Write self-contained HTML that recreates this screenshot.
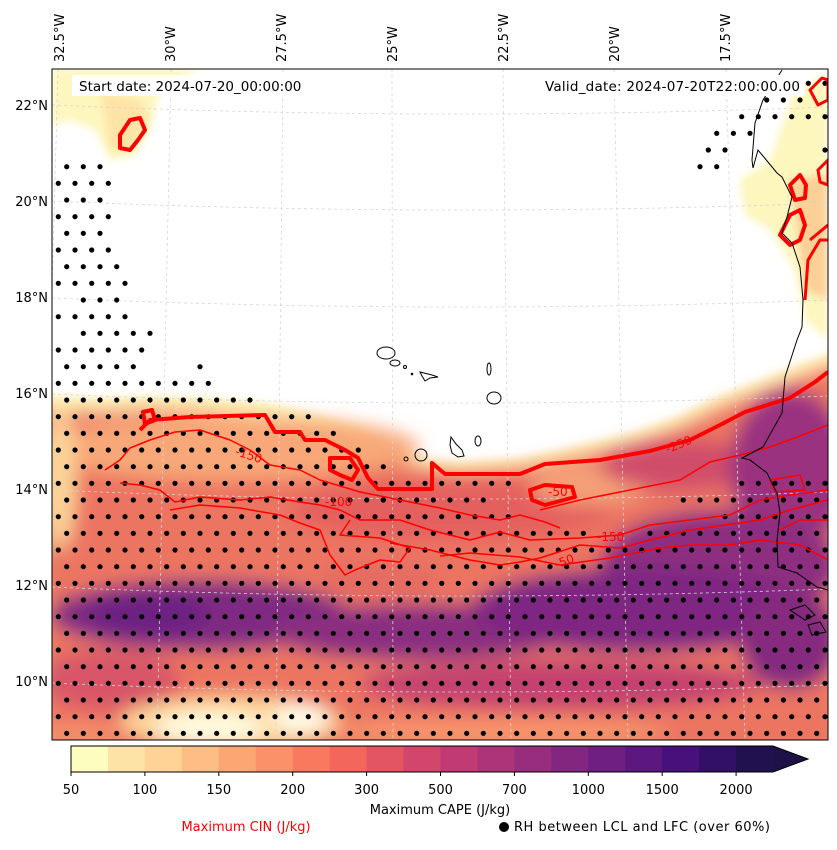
<!DOCTYPE html>
<html><head><meta charset="utf-8"><style>
body{margin:0;background:#fff;width:837px;height:845px;overflow:hidden;font-family:"Liberation Sans","DejaVu Sans",sans-serif}
svg text{font-family:"DejaVu Sans","Liberation Sans",sans-serif}
</style></head><body>
<svg id="fig" width="837" height="845" viewBox="0 0 837 845" xmlns="http://www.w3.org/2000/svg">
<defs>
<clipPath id="mapclip"><rect x="52" y="69" width="776" height="671"/></clipPath>
<filter id="blur" x="-20%" y="-20%" width="140%" height="140%"><feGaussianBlur stdDeviation="9"/></filter>
<filter id="blur2"><feGaussianBlur stdDeviation="4"/></filter>
</defs>
<g clip-path="url(#mapclip)">
 <rect x="52" y="69" width="776" height="671" fill="#fff"/>
 <g>
  <g filter="url(#blur2)">
   <path d="M40,395 L100,398 L150,396 L200,398 L260,402 L320,415 L360,428 L392,448 L420,458 L460,462 L520,458 L560,450 L600,440 L640,430 L680,415 L720,396 L760,380 L800,364 L840,350 L840,760 L40,760 Z" fill="#fdf4b8"/>
  </g>
  <g filter="url(#blur)">
   <path d="M40,410 L100,413 L150,410 L200,412 L260,416 L320,428 L360,440 L392,460 L420,468 L460,472 L520,468 L560,460 L600,452 L640,442 L680,428 L720,408 L760,393 L800,378 L840,363 L840,760 L40,760 Z" fill="#ec7462"/>
   <ellipse cx="230" cy="448" rx="190" ry="32" fill="#f8a878"/>
   <ellipse cx="60" cy="480" rx="16" ry="70" fill="#fbd59a"/>
   <ellipse cx="450" cy="510" rx="160" ry="30" fill="#e4605f"/>
   <ellipse cx="590" cy="485" rx="60" ry="20" fill="#f4a078"/>
   <ellipse cx="680" cy="465" rx="80" ry="25" fill="#d04e6a"/>
   <ellipse cx="790" cy="470" rx="60" ry="80" fill="#9a3380"/>
   <ellipse cx="720" cy="565" rx="120" ry="55" fill="#8e2e80"/>
   <ellipse cx="200" cy="615" rx="150" ry="35" fill="#7f2a82"/>
   <ellipse cx="150" cy="615" rx="60" ry="20" fill="#6c2182"/>
   <ellipse cx="420" cy="632" rx="150" ry="28" fill="#8a2e80"/>
   <ellipse cx="640" cy="610" rx="170" ry="42" fill="#7e2882"/>
   <ellipse cx="790" cy="640" rx="50" ry="50" fill="#85297f"/>
   <ellipse cx="560" cy="685" rx="200" ry="25" fill="#c4436f"/>
   <ellipse cx="110" cy="680" rx="70" ry="30" fill="#d85668"/>
   <ellipse cx="380" cy="580" rx="60" ry="15" fill="#e46a62"/>
   <ellipse cx="230" cy="722" rx="110" ry="26" fill="#fcd69a"/>
   <ellipse cx="210" cy="728" rx="55" ry="16" fill="#fffbe0"/>
   <ellipse cx="300" cy="718" rx="28" ry="14" fill="#fffbe8"/>
   <ellipse cx="500" cy="732" rx="170" ry="14" fill="#f7946c"/>
   <ellipse cx="80" cy="735" rx="40" ry="12" fill="#f4906a"/>
  </g>
  <g filter="url(#blur2)" fill="#fdf6bd">
   <path d="M52,69 L200,69 L160,90 L150,130 L135,155 L110,160 L95,130 L70,120 L52,125 Z"/>
   <path d="M100,90 L140,100 L150,120 L130,150 L110,150 L105,120 Z" fill="#fde4a6"/>
   <path d="M795,90 L828,75 L828,340 L805,320 L795,270 L770,230 L745,215 L740,180 L770,160 Z"/>
   <path d="M790,180 L828,175 L828,300 L805,290 Z" fill="#fbd096"/>
  </g>
 </g>
 <g stroke="#d6d6d6" stroke-width="0.8" stroke-dasharray="3,3" fill="none">
  <path d="M52,105 Q440,122 828,107"/><path d="M52,201 Q440,218 828,203"/><path d="M52,298 Q440,315 828,300"/>
  <path d="M52,394 Q440,411 828,396"/><path d="M52,490 Q440,507 828,492"/><path d="M52,587 Q440,604 828,589"/><path d="M52,683 Q440,700 828,685"/>
  <line x1="58" y1="69" x2="40" y2="740"/><line x1="171" y1="69" x2="157" y2="740"/><line x1="283" y1="69" x2="276" y2="740"/>
  <line x1="392" y1="69" x2="393" y2="740"/><line x1="503" y1="69" x2="511" y2="740"/><line x1="614" y1="69" x2="628" y2="740"/><line x1="726" y1="69" x2="745" y2="740"/>
 </g>
 <g id="dots" fill="#000"></g>
 <g fill="none" stroke="#ff0000" stroke-linejoin="round">
  <path stroke-width="4" d="M140,430 L150,420 L190,417 L265,415 L275,432 L300,432 L305,440 L325,440 L345,450 L358,458 L368,478 L378,489 L432,489 L432,463 L445,474 L470,474 L520,474 L545,464 L600,460 L650,451 L690,440 L720,425 L745,412 L790,398 L815,382 L828,372"/>
  <path stroke-width="4" d="M330,458 L350,458 L358,470 L352,480 L340,475 L330,470 Z"/>
  <path stroke-width="4" d="M530,490 L545,485 L572,487 L575,497 L545,505 L532,500 Z"/>
  <path stroke-width="4" d="M143,412 L152,410 L155,420 L145,424 Z"/>
  <path stroke-width="1.5" d="M105,470 L120,460 L130,448 L150,440 L175,432 L200,430 L230,440 L250,450 L270,465 L300,470 L320,480 L360,492 L400,500 L440,508 L470,515 L500,520 L520,515 L545,522 L560,528"/>
  <path stroke-width="1.5" d="M120,483 L140,485 L160,490 L175,502 L200,497 L240,500 L270,497 L300,502 L320,505 L340,510 L360,520 L400,520 L430,530 L470,540 L500,532 L530,540 L580,538 L620,535 L650,525 L690,520 L730,515 L760,500 L790,495 L828,490"/>
  <path stroke-width="1.5" d="M170,510 L200,505 L240,508 L280,515 L300,523 L320,530 L330,555 L345,575 L355,570 L380,560 L400,562 L410,548 L380,538 L340,535 L350,520"/>
  <path stroke-width="1.5" d="M390,543 L430,550 L470,560 L500,565 L520,562 L540,558 L580,545 L620,548 L650,540 L690,530 L725,525 L760,520 L790,510 L828,500"/>
  <path stroke-width="1.5" d="M440,556 L470,553 L520,557 L560,565 L610,558 L660,548 L690,545 L730,545 L760,540 L800,545 L828,560"/>
  <path stroke-width="1.5" d="M540,510 L580,500 L630,490 L680,480 L710,462 L740,455 L770,447 L800,436 L828,425"/>
  <path stroke-width="1.5" d="M770,480 L800,475 L805,490 L775,492 Z"/>
  <path stroke-width="1.5" d="M780,530 L800,520 L828,520"/>
  <path stroke-width="4" d="M120,135 L130,120 L140,118 L145,130 L138,140 L130,150 L120,148 Z"/>
  <path stroke-width="4" d="M790,185 L800,175 L806,185 L805,198 L795,200 Z"/>
  <path stroke-width="4" d="M780,235 L790,215 L800,210 L805,225 L800,240 L790,245 Z"/>
  <path stroke-width="3" d="M810,90 L822,78 L828,80 L828,100 L818,105 Z"/>
  <path stroke-width="3" d="M818,170 L828,160 L828,185 L820,182 Z"/>
  <path stroke-width="3" d="M810,240 L828,225 M805,300 L808,260 L820,240 L828,240"/>
 </g>
 <g fill="#ff0000" font-size="12">
  <text x="235" y="458" transform="rotate(18 245 455)">-150</text>
  <text x="325" y="506">-100</text>
  <text x="597" y="541">-150</text>
  <text x="555" y="567" transform="rotate(-20 560 563)">-50</text>
  <text x="665" y="450" transform="rotate(-22 675 445)">-250</text>
  <text x="548" y="496">-50</text>
 </g>
 <g fill="none" stroke="#000" stroke-width="1">
  <path d="M782,70 L763,100 L755,123 L752,160 L753,168 L758,150 L777,173 L782,177 L792,197 L787,217 L782,233 L792,243 L800,267 L803,300 L802,327 L797,340 L785,377 L782,413 L763,447 L742,458 L750,460 L767,473 L777,493 L780,513 L777,540 L778,567 L797,573 L817,587 L828,590"/>
  <path d="M790,610 L805,605 L815,615 L805,620 Z M808,625 L820,622 L826,632 L812,635 Z"/>
  <ellipse cx="386" cy="353" rx="9" ry="6"/><ellipse cx="395" cy="363" rx="5" ry="3"/>
  <circle cx="405" cy="367" r="1.5"/><circle cx="412" cy="374" r="0.8"/>
  <path d="M420,372 L432,375 L438,377 L430,378 L425,381 L422,376 Z"/>
  <ellipse cx="489" cy="369" rx="2" ry="6"/><ellipse cx="494" cy="398" rx="7" ry="6"/>
  <ellipse cx="421" cy="455" rx="6" ry="6"/><circle cx="406" cy="459" r="2"/>
  <path d="M451,437 L456,444 L462,450 L464,456 L458,457 L452,453 L450,445 Z"/><ellipse cx="478" cy="441" rx="3" ry="5"/>
 </g>
 <g>
  <rect x="72" y="75" width="237" height="21" fill="#fff"/>
  <text x="79" y="91" font-size="13.5" fill="#000">Start date: 2024-07-20_00:00:00</text>
  <rect x="540" y="75" width="265" height="21" fill="#fff"/>
  <text x="800" y="91" font-size="13.5" fill="#000" text-anchor="end" textLength="255">Valid_date: 2024-07-20T22:00:00.00</text>
 </g>
</g>
<rect x="52" y="69" width="776" height="671" fill="none" stroke="#000" stroke-width="1"/>
<g id="latlabels" font-size="13" fill="#000"></g>
<g id="lonlabels" font-size="13" fill="#000"></g>
<g id="colorbar"></g>
<text x="440" y="814" font-size="13" text-anchor="middle" fill="#000">Maximum CAPE (J/kg)</text>
<text x="246" y="831" font-size="13" text-anchor="middle" fill="#ff0000">Maximum CIN (J/kg)</text>
<circle cx="504" cy="827" r="5" fill="#000"/>
<text x="514" y="831" font-size="13" fill="#000" textLength="256">RH between LCL and LFC (over 60%)</text>
</svg>
<script>
const NS="http://www.w3.org/2000/svg";
// colorbar data
const cbLevels=[50,75,100,125,150,175,200,250,300,400,500,600,700,800,1000,1250,1500,1750,2000];
const cbColors=["#fcfdbf","#fde4a6","#fed395","#fdbd84","#fca772","#fb9168","#f8795e","#f2665c","#e45563","#d3466b","#c13a73","#ad3478","#982d7d","#83267f","#6f1f81","#5c187f","#47107a","#321067","#21114e"];
const cbTicks=[50,100,150,200,300,500,700,1000,1500,2000];
// lat/lon labels
const latLabels=["22°N","20°N","18°N","16°N","14°N","12°N","10°N"];
const latValues=[22,20,18,16,14,12,10];
const lonLabels=["32.5°W","30°W","27.5°W","25°W","22.5°W","20°W","17.5°W"];
const lonValues=[-32.5,-30,-27.5,-25,-22.5,-20,-17.5];
// stipple rows: row index and x ranges
const dotRows=[-5,-4,-3,-2,-1,-1,0,0,1,2,3,4,5,6,7,8,9,10,11,12,12,13,14,15,16,17,18,19,19,20,20,21,21,22,22,23];
const dotMin=[808,767,742,717,708,825,67,700,58,67,58,67,58,67,58,83,58,83,58,67,200,58,67,58,67,58,58,58,742,58,683,58,723,58,650,58];
const dotMax=[828,800,828,750,725,828,100,717,108,100,108,100,108,117,125,117,125,150,142,133,200,208,250,308,340,358,383,508,828,483,828,508,828,583,828,828];
const lastRow=34;

const cbX=v=>{const i=cbLevels.indexOf(v);return 71+i*36.95;};
const cb=document.getElementById('colorbar');
cbColors.forEach((c,i)=>{const r=document.createElementNS(NS,'rect');
r.setAttribute('x',71+i*36.95);r.setAttribute('y',746);r.setAttribute('width',37.5);r.setAttribute('height',26);r.setAttribute('fill',c);


cb.appendChild(r);});
const tri=document.createElementNS(NS,'path');
tri.setAttribute('d','M773,746 L808,759 L773,772 Z');tri.setAttribute('fill','#1d1147');


cb.appendChild(tri);
const ol=document.createElementNS(NS,'path');
ol.setAttribute('d','M71,746 L773,746 L808,759 L773,772 L71,772 Z');ol.setAttribute('fill','none');ol.setAttribute('stroke','#000');ol.setAttribute('stroke-width','1');


cb.appendChild(ol);
cbTicks.forEach(v=>{const x=cbX(v);
const l=document.createElementNS(NS,'line');l.setAttribute('x1',x);l.setAttribute('x2',x);l.setAttribute('y1',772);l.setAttribute('y2',776);l.setAttribute('stroke','#000');


cb.appendChild(l);
const t=document.createElementNS(NS,'text');t.setAttribute('x',x);t.setAttribute('y',794);t.setAttribute('font-size','13');t.setAttribute('text-anchor','middle');t.textContent=v;


cb.appendChild(t);});

const latY=v=>105+(22-v)*48.0;
const lg=document.getElementById('latlabels');
latValues.forEach((v,i)=>{const t=document.createElementNS(NS,'text');t.setAttribute('x',48);t.setAttribute('y',latY(v)+5);t.setAttribute('text-anchor','end');t.textContent=latLabels[i];


lg.appendChild(t);});
const lonX=v=>60+(v+32.5)*44.4;
const og=document.getElementById('lonlabels');
lonValues.forEach((v,i)=>{const x=lonX(v)+4;const t=document.createElementNS(NS,'text');t.setAttribute('x',x);t.setAttribute('y',62);t.setAttribute('transform','rotate(-90 '+x+' 62)');t.textContent=lonLabels[i];


og.appendChild(t);});

const dg=document.getElementById('dots');
const sp=16.667;
function addDot(x,y){const c=document.createElementNS(NS,'circle');c.setAttribute('cx',x.toFixed(1));c.setAttribute('cy',y.toFixed(1));c.setAttribute('r',2.6);


dg.appendChild(c);}
function rowOff(j){return (((j%2)+2)%2===0)?66.67:58.33;}
dotRows.forEach((j,k)=>{const y=166.67+j*sp;const off=rowOff(j);
for(let x=off;x<=840;x+=sp){if(x>=dotMin[k]-3&&x<=dotMax[k]+3)addDot(x,y);}});
for(let j=24;j<=lastRow;j++){const y=166.67+j*sp;const off=rowOff(j);for(let x=off;x<=840;x+=sp)addDot(x,y);}
</script>
</body></html>
